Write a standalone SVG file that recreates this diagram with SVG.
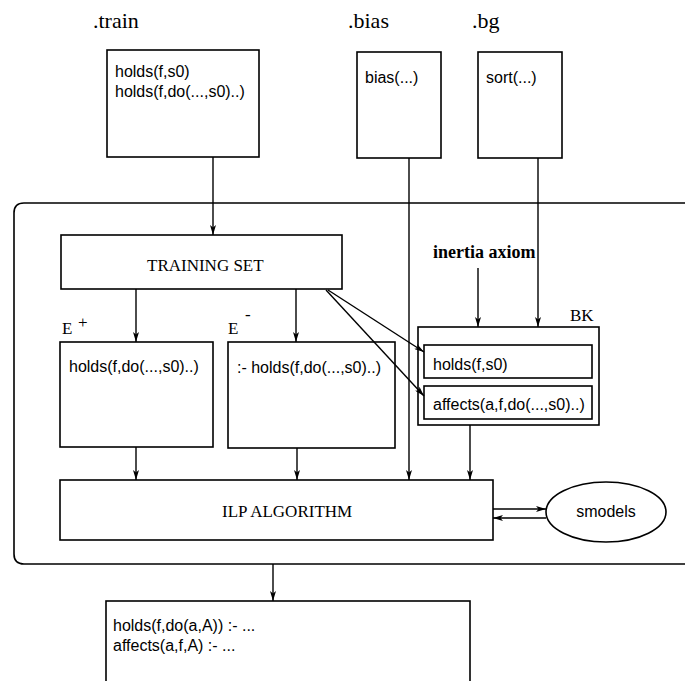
<svg xmlns="http://www.w3.org/2000/svg" width="685" height="681" viewBox="0 0 685 681">
  <style>
    .box { fill: #fff; stroke: #000; stroke-width: 1.6; }
    .frame { fill: none; stroke: #000; stroke-width: 1.6; }
    .edge { fill: none; stroke: #000; stroke-width: 1.4; }
    .code { font-family: "Liberation Sans", Arial, sans-serif; font-size: 16px; fill: #000; }
    .title { font-family: "Liberation Serif", "Times New Roman", serif; font-size: 17px; fill: #000; }
    .file { font-family: "Liberation Serif", "Times New Roman", serif; font-size: 22px; fill: #000; }
    .label { font-family: "Liberation Serif", "Times New Roman", serif; font-size: 17px; fill: #000; }
    .bold { font-family: "Liberation Serif", "Times New Roman", serif; font-size: 18px; font-weight: bold; fill: #000; }
  </style>
  <defs>
    <marker id="arrow" viewBox="0 0 10 6" refX="10" refY="3" markerWidth="10" markerHeight="6" markerUnits="userSpaceOnUse" orient="auto">
      <path d="M0,0 L10,3 L0,6 L2.5,3 Z" fill="#000"/>
    </marker>
  </defs>

  <!-- input files -->
  <g id="train-file">
    <text class="file" x="93" y="28">.train</text>
    <rect class="box" x="107" y="50" width="152" height="107"/>
    <text class="code" x="115" y="77">holds(f,s0)</text>
    <text class="code" x="115" y="97">holds(f,do(...,s0)..)</text>
  </g>
  <g id="bias-file">
    <text class="file" x="348" y="28">.bias</text>
    <rect class="box" x="357" y="52" width="84" height="106"/>
    <text class="code" x="365" y="83">bias(...)</text>
  </g>
  <g id="bg-file">
    <text class="file" x="472" y="28">.bg</text>
    <rect class="box" x="478" y="52" width="84" height="106"/>
    <text class="code" x="486" y="83">sort(...)</text>
  </g>

  <!-- system boundary, open on the right -->
  <g id="system">
    <path class="frame" d="M690,203 H24 Q14,203 14,213 V554 Q14,564 24,564 H690"/>
  </g>

  <g id="training-set">
    <rect class="box" x="61" y="235" width="281" height="54"/>
    <text class="title" x="147" y="271">TRAINING SET</text>
  </g>

  <g id="inertia">
    <text class="bold" x="433" y="258">inertia axiom</text>
  </g>

  <g id="positive">
    <text class="label" x="62" y="334">E</text>
    <text class="label" x="78" y="328">+</text>
    <rect class="box" x="60" y="342" width="153" height="105"/>
    <text class="code" x="69" y="372">holds(f,do(...,s0)..)</text>
  </g>

  <g id="negative">
    <text class="label" x="228" y="334">E</text>
    <text class="label" x="245" y="320" font-size="13">-</text>
    <rect class="box" x="228" y="342" width="167" height="106"/>
    <text class="code" x="237" y="373">:- holds(f,do(...,s0)..)</text>
  </g>

  <g id="bk">
    <text class="label" x="570" y="321">BK</text>
    <rect class="box" x="418" y="327" width="181" height="98"/>
    <rect class="box" x="424" y="345" width="168" height="33"/>
    <text class="code" x="433" y="370">holds(f,s0)</text>
    <rect class="box" x="424" y="386" width="168" height="33"/>
    <text class="code" x="433" y="410">affects(a,f,do(...,s0)..)</text>
  </g>

  <g id="ilp">
    <rect class="box" x="60" y="480" width="433" height="60"/>
    <text class="title" x="222" y="517">ILP ALGORITHM</text>
  </g>

  <g id="smodels">
    <ellipse class="box" cx="606" cy="512" rx="60" ry="30"/>
    <text class="code" x="606" y="517" text-anchor="middle">smodels</text>
  </g>

  <g id="hypothesis">
    <rect class="box" x="106" y="601" width="364" height="90"/>
    <text class="code" x="113" y="631">holds(f,do(a,A)) :- ...</text>
    <text class="code" x="113" y="651">affects(a,f,A) :- ...</text>
  </g>

  <!-- connectors -->
  <g id="connectors">
    <line class="edge" x1="213" y1="157" x2="213" y2="235" marker-end="url(#arrow)"/>
    <line class="edge" x1="409" y1="158" x2="409" y2="480" marker-end="url(#arrow)"/>
    <line class="edge" x1="538" y1="158" x2="538" y2="327" marker-end="url(#arrow)"/>
    <line class="edge" x1="478" y1="268" x2="478" y2="327" marker-end="url(#arrow)"/>
    <line class="edge" x1="136" y1="289" x2="136" y2="342" marker-end="url(#arrow)"/>
    <line class="edge" x1="296" y1="289" x2="296" y2="342" marker-end="url(#arrow)"/>
    <line class="edge" x1="328" y1="290" x2="424" y2="352" marker-end="url(#arrow)"/>
    <line class="edge" x1="326" y1="290" x2="424" y2="396" marker-end="url(#arrow)"/>
    <line class="edge" x1="136" y1="447" x2="136" y2="480" marker-end="url(#arrow)"/>
    <line class="edge" x1="297" y1="448" x2="297" y2="480" marker-end="url(#arrow)"/>
    <line class="edge" x1="470" y1="425" x2="470" y2="480" marker-end="url(#arrow)"/>
    <line class="edge" x1="493" y1="509" x2="546" y2="509" marker-end="url(#arrow)"/>
    <line class="edge" x1="546" y1="518" x2="493" y2="518" marker-end="url(#arrow)"/>
    <line class="edge" x1="273" y1="564" x2="273" y2="601" marker-end="url(#arrow)"/>
  </g>
</svg>
